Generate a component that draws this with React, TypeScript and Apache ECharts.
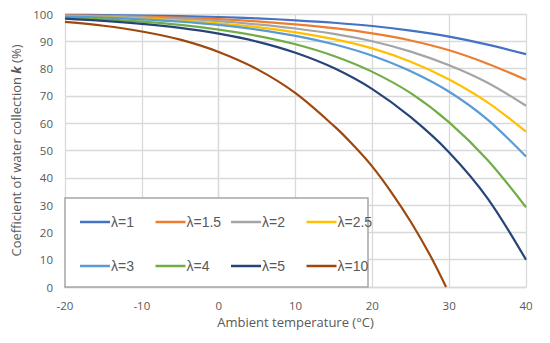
import React, { useEffect, useRef } from "react";
import * as echarts from "echarts";

const temps = [-20, -15, -10, -5, 0, 5, 10, 15, 20, 25, 30, 35, 40];
const seriesNames = ["λ=1", "λ=1.5", "λ=2", "λ=2.5", "λ=3", "λ=4", "λ=5", "λ=10"];
const colors = ["#4472C4", "#ED7D31", "#A5A5A5", "#FFC000", "#5B9BD5", "#70AD47", "#264478", "#9E480E"];

const k1 = [99.7, 99.6, 99.45, 99.2, 98.9, 98.4, 97.7, 96.8, 95.6, 93.9, 91.7, 88.8, 85.3];
const k15 = [99.55, 99.35, 99.05, 98.65, 98.1, 97.3, 96.2, 94.8, 92.9, 90.3, 86.7, 81.8, 75.9];
const k2 = [99.4, 99.15, 98.75, 98.2, 97.4, 96.2, 94.7, 92.7, 90.0, 86.2, 81.2, 74.8, 66.4];
const k25 = [99.15, 98.8, 98.3, 97.6, 96.6, 95.2, 93.3, 90.8, 87.4, 82.5, 76.0, 67.6, 56.9];
const k3 = [99.05, 98.65, 98.05, 97.2, 96.0, 94.3, 92.0, 88.9, 84.7, 79.0, 71.5, 61.3, 47.8];
const k4 = [98.6, 98.0, 97.2, 96.0, 94.3, 92.0, 88.9, 84.6, 78.8, 71.0, 60.3, 46.5, 29.2];
const k5 = [98.3, 97.5, 96.4, 94.9, 92.8, 89.9, 85.8, 80.2, 72.5, 62.2, 49.3, 32.5, 10.0];
const temps10 = [-20, -15, -10, -5, 0, 5, 10, 15, 17.5, 20, 22.5, 25, 27.5, 29.6];
const k10 = [97.1, 95.7, 93.6, 90.6, 86.1, 79.8, 71.0, 59.0, 52.0, 44.1, 34.6, 23.9, 11.7, 0];

const xTicks = { min: -20, max: 40, interval: 10 };
const yTicks = { min: 0, max: 100, interval: 10 };

export default function App() {
  const ref = useRef<HTMLDivElement>(null);
  useEffect(() => {
    if (!ref.current) return;
    document.body.style.margin = "0";
    const chart = echarts.init(ref.current, null, { renderer: "svg" });
    const allY = [k1, k15, k2, k25, k3, k4, k5];
    const seriesData = allY.map((ys) => temps.map((t, i) => [t, ys[i]]));
    seriesData.push(temps10.map((t, i) => [t, k10[i]]));

    const legendCols = [80, 155.5, 231, 306.5];
    const legendRows = [215, 259];
    const legends = seriesNames.map((n, i) => ({
      data: [n],
      left: legendCols[i % 4],
      top: legendRows[Math.floor(i / 4)],
      padding: 0,
      icon: "rect",
      itemWidth: 30,
      itemHeight: 2.5,
      itemGap: 0,
      selectedMode: false,
      z: 10,
      textStyle: { fontFamily: "Liberation Sans", fontSize: 14, color: "#595959", padding: [0, 0, 0, -4] },
    }));

    chart.setOption({
      animation: false,
      textStyle: { fontFamily: "Open Sans" },
      grid: { left: 65, right: 24, top: 14, bottom: 56 },
      legend: legends,
      graphic: [
        {
          type: "rect",
          z: 5,
          shape: { x: 65, y: 198, width: 303, height: 89 },
          style: { fill: "#ffffff", stroke: "#A6A6A6", lineWidth: 1.5 },
        },
      ],
      xAxis: {
        type: "value",
        min: xTicks.min,
        max: xTicks.max,
        interval: xTicks.interval,
        name: "Ambient temperature (°C)",
        nameLocation: "middle",
        nameGap: 28,
        nameTextStyle: { fontSize: 13, color: "#595959", fontFamily: "Open Sans" },
        axisLine: { show: true, lineStyle: { color: "#D9D9D9", width: 1.3 } },
        axisTick: { show: false },
        axisLabel: { color: "#595959", fontSize: 11.5, margin: 12, fontFamily: "Open Sans" },
        splitLine: { show: true, lineStyle: { color: "#D9D9D9", width: 1.3 } },
      },
      yAxis: {
        type: "value",
        min: yTicks.min,
        max: yTicks.max,
        interval: yTicks.interval,
        name: "Coefficient of water collection {k|k} (%)",
        nameLocation: "middle",
        nameGap: 40,
        nameTextStyle: {
          fontSize: 13,
          color: "#595959",
          fontFamily: "Open Sans",
          rich: { k: { fontSize: 13, color: "#595959", fontStyle: "italic", fontWeight: "bold", fontFamily: "Open Sans" } },
        },
        axisLine: { show: true, lineStyle: { color: "#D9D9D9", width: 1.3 } },
        axisTick: { show: false },
        axisLabel: { color: "#595959", fontSize: 11.5, margin: 12, fontFamily: "Open Sans" },
        splitLine: { show: true, lineStyle: { color: "#D9D9D9", width: 1.3 } },
      },
      series: seriesNames.map((n, i) => ({
        name: n,
        type: "line",
        data: seriesData[i],
        smooth: 0.33,
        symbol: "none",
        color: colors[i],
        lineStyle: { color: colors[i], width: 2.2 },
        z: 3,
      })),
    });
    return () => chart.dispose();
  }, []);
  return <div ref={ref} style={{ width: 550, height: 343 }} />;
}
